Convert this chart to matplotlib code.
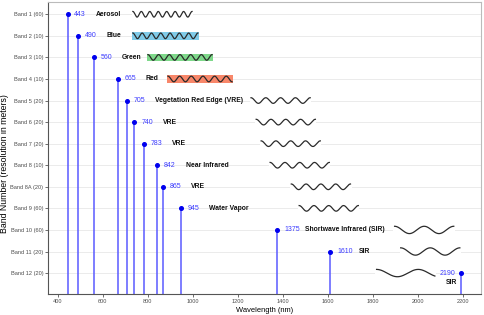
import numpy as np
import matplotlib
matplotlib.use("Agg")
import matplotlib.pyplot as plt

plt.rcParams['font.family'] = ['Liberation Sans', 'DejaVu Sans']

bands = ["Band 1 (60)", "Band 2 (10)", "Band 3 (10)", "Band 4 (10)", "Band 5 (20)",
         "Band 6 (20)", "Band 7 (20)", "Band 8 (10)", "Band 8A (20)", "Band 9 (60)",
         "Band 10 (60)", "Band 11 (20)", "Band 12 (20)"]
wavelength = [443, 490, 560, 665, 705, 740, 783, 842, 865, 945, 1375, 1610, 2190]
names = ["Aerosol", "Blue", "Green", "Red", "Vegetation Red Edge (VRE)", "VRE", "VRE",
         "Near Infrared", "VRE", "Water Vapor", "Shortwave Infrared (SIR)", "SIR", "SIR"]
wave_start = [733, 733, 800, 889, 1258, 1281, 1303, 1343, 1437, 1472, 1896, 1923, 1816]
wave_end = [996, 1022, 1085, 1174, 1521, 1544, 1566, 1606, 1700, 1735, 2159, 2186, 2075]
wave_cycles = [7, 7, 6, 5.5, 4, 4, 4, 4, 4, 4, 2, 2, 1.4]
wave_fill = [None, "#80CBE8", "#7ED88A", "#F8876A", None, None, None, None, None, None,
             None, None, None]
xticks = [400, 600, 800, 1000, 1200, 1400, 1600, 1800, 2000, 2200]

fig = plt.figure(figsize=(4.84, 3.15), dpi=100)
ax = fig.add_axes([0.0992, 0.0667, 0.8946, 0.927])

n = len(bands)
ypos = np.arange(n)
ax.set_xlim(356, 2280)
ax.set_ylim(12.97, -0.57)

for y in ypos:
    ax.axhline(y, color="#ebebeb", lw=0.7, zorder=0)

line_col = "#5a5aff"
text_col = "#3c3cff"
for i, (wl, nm) in enumerate(zip(wavelength, names)):
    ax.vlines(wl, i, 20, color=line_col, lw=1.1, zorder=2)
    ax.plot(wl, i, 'o', color="#0000ee", ms=2.6, zorder=3)
    if i == n - 1:
        ax.text(wl - 22, i, str(wl), color=text_col, fontsize=5.0, ha='right', va='center', zorder=4)
        ax.text(wl - 40, i + 0.42, nm, color="#111111", fontsize=4.9, fontweight='bold',
                ha='center', va='center', zorder=4)
    else:
        ax.text(wl + 30, i, str(wl), color=text_col, fontsize=5.0, ha='left', va='center', zorder=4)
        ax.text(wl + 125, i, nm, color="#111111", fontsize=4.9, fontweight='bold',
                ha='left', va='center', zorder=4)

for i in range(n):
    xs = np.linspace(wave_start[i], wave_end[i], 300)
    t = (xs - xs[0]) / (xs[-1] - xs[0])
    amp = 0.13 if i < 10 else 0.17
    bg = wave_fill[i] if wave_fill[i] else "white"
    h = 0.17 if wave_fill[i] else amp + 0.05
    ax.fill_between([wave_start[i] - 5, wave_end[i] + 5], i - h, i + h, color=bg,
                    lw=0, zorder=1)
    ax.plot(xs, i - amp * np.cos(2 * np.pi * wave_cycles[i] * t), color="#2a2a2a",
            lw=0.9, zorder=3)

ax.set_yticks(ypos)
ax.set_yticklabels(bands)
ax.set_xticks(xticks)
ax.tick_params(axis='both', labelsize=4.1, labelcolor="#4d4d4d", color="#333333",
               length=2, width=0.5, pad=1.5)
ax.set_xlabel("Wavelength (nm)", fontsize=5.4, labelpad=2)
ax.set_ylabel("Band Number (resolution in meters)", fontsize=6.3)
ax.yaxis.set_label_coords(-0.1, 0.445)
ax.yaxis.label.set_va('center')

for s in ['left', 'bottom']:
    ax.spines[s].set_color("#555555")
    ax.spines[s].set_linewidth(0.8)
for s in ['top', 'right']:
    ax.spines[s].set_color("#bbbbbb")
    ax.spines[s].set_linewidth(0.8)

fig.savefig("out.png", dpi=100)
